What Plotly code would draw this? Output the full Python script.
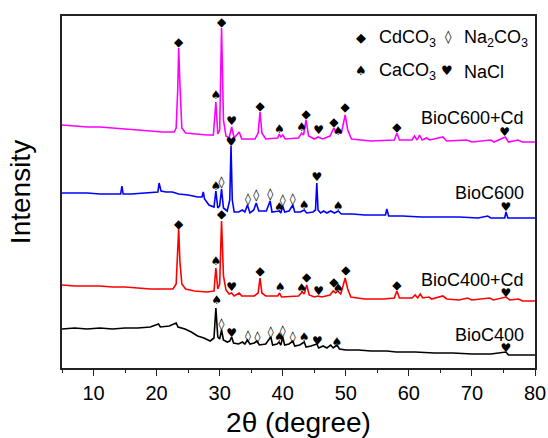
import plotly.graph_objects as go

# ---------------- data (2θ in degrees, intensity in arbitrary units) ----------------
bioc400_x = [5, 7, 9, 11, 13, 15, 17, 19, 20.3, 20.6, 22, 23.1, 23.4, 24.5, 25.5, 26.5, 27.5, 28.5,
             29.1, 29.4, 29.7, 30.0, 30.3, 30.6, 31.2, 31.6, 31.9, 32.2, 33, 33.6, 34.0, 34.4, 34.8,
             35.5, 35.9, 36.3, 37.3, 38.1, 38.4, 39.1, 39.4, 39.7, 40.0, 40.3, 41.0, 41.6, 41.9, 42.7,
             43.4, 43.7, 44.5, 45.4, 45.7, 46.4, 47.0, 47.6, 48.0, 48.6, 49.0, 50, 52, 54, 56.5, 58,
             61, 64, 67, 70, 73, 75.4, 75.8, 78, 80]
bioc400_y = [39, 40, 39, 40, 39, 40, 40, 41, 44, 41, 42, 45, 41, 39, 36, 32, 30, 27,
             30, 60, 31, 29, 38, 28, 26, 27, 31, 25, 24, 26, 24, 28, 24,
             25, 27, 23, 24, 31, 23, 24, 26, 23, 31, 23, 24, 27, 22, 23,
             26, 21, 22, 24, 20, 22, 20, 23, 20, 23, 19, 18, 18, 17, 17, 16,
             16, 15, 15, 14, 14, 16, 13, 13, 13]

bioc400cd_x = [5, 7, 9, 11, 13, 15, 17, 19, 21, 22.6, 23.1, 23.35, 23.5, 23.7, 24.0, 24.6, 26, 28,
               29.1, 29.4, 29.7, 30.0, 30.3, 30.6, 31.0, 31.5, 31.9, 32.3, 33.1, 33.5, 35.5, 36.1,
               36.4, 36.7, 37.3, 39.2, 39.5, 39.8, 42.5, 43.1, 43.4, 43.8, 44.2, 45.0, 45.6, 46.2,
               47.5, 48.0, 48.4, 48.7, 49.2, 49.6, 49.9, 50.3, 50.8, 53, 56, 57.7, 58.1, 58.5, 60.5,
               61.0, 61.4, 61.8, 62.2, 63.2, 63.6, 65.4, 66.0, 68, 69.3, 70, 72.8, 73.4, 75.4, 76,
               77.4, 78, 80]
bioc400cd_y = [83, 82, 82, 82, 81, 81, 80, 79, 79, 79, 84, 113, 139, 106, 84, 79, 77, 76,
               77, 100, 79, 84, 147, 92, 78, 74, 75, 72, 75, 72, 72, 75,
               90, 75, 72, 72, 75, 71, 72, 76, 74, 83, 73, 71, 72, 71,
               73, 77, 75, 77, 74, 83, 90, 79, 71, 69, 69, 70, 77, 70, 70,
               73, 70, 74, 70, 71, 69, 72, 69, 68, 70, 68, 70, 68, 71, 68,
               69, 67, 67]

bioc600_x = [5, 7, 9, 11, 13, 14.3, 14.5, 14.7, 16, 18, 20.2, 20.4, 20.7, 21.5, 22.5, 23.5, 25,
             26.5, 27.2, 27.4, 27.6, 28.3, 29.1, 29.4, 29.7, 30.0, 30.3, 30.6, 31.2, 31.6, 31.8,
             32.0, 32.3, 33.0, 33.6, 34.0, 34.4, 34.8, 35.4, 35.8, 36.2, 37.4, 38.0, 38.3, 39.1,
             39.45, 39.7, 40.0, 40.3, 41.0, 41.6, 41.9, 42.8, 43.4, 43.8, 44.8, 45.2, 45.4, 45.6,
             46.0, 46.5, 47.0, 47.6, 48.2, 48.8, 49.3, 51, 53, 55, 56.3, 56.5, 56.8, 59, 62, 65,
             68, 71, 72.5, 73, 75.2, 75.4, 75.7, 78, 80]
bioc600_y = [175, 175, 175, 174, 174, 174, 182, 174, 174, 175, 176, 185, 177, 176, 176, 174, 173,
             171, 171, 176, 169, 163, 161, 177, 160, 162, 179, 160, 157, 168, 222,
             168, 156, 156, 158, 156, 163, 155, 158, 165, 157, 157, 167, 156, 157,
             157, 155, 162, 156, 157, 163, 156, 156, 158, 155, 156, 158, 185, 158,
             155, 157, 155, 157, 155, 157, 154, 154, 153, 153, 153, 159, 152, 152, 151, 151,
             151, 150, 152, 150, 150, 156, 150, 150, 150]

bioc600cd_x = [5, 7, 9, 11, 13, 15, 17, 19, 21, 22.8, 23.1, 23.35, 23.5, 23.7, 24.0, 24.6, 26, 28,
               29.0, 29.4, 29.7, 30.0, 30.3, 30.6, 31.0, 31.5, 31.9, 32.3, 33.1, 33.5, 35.6, 36.1,
               36.4, 36.7, 37.3, 39.2, 39.45, 39.7, 40.0, 40.4, 42.5, 43.0, 43.3, 43.7, 44.1, 45.0,
               45.6, 46.3, 47.5, 48.1, 48.5, 48.8, 49.3, 49.9, 50.3, 50.9, 54, 57.7, 58.1, 58.5,
               60.5, 60.9, 61.3, 61.7, 62.1, 62.8, 63.3, 65.4, 66, 69.2, 70, 73, 73.5, 75.3, 75.8,
               77.3, 78, 80]
bioc600cd_y = [243, 242, 241, 241, 240, 239, 238, 237, 236, 236, 240, 278, 320, 283, 240, 235, 234, 233,
               233, 266, 234, 238, 340, 248, 232, 230, 241, 230, 236, 229, 229, 235,
               256, 235, 229, 230, 234, 231, 233, 229, 230, 235, 233, 248, 232, 229,
               231, 229, 232, 240, 235, 236, 235, 253, 238, 229, 227, 228, 235, 228,
               228, 232, 228, 233, 228, 230, 228, 231, 227, 228, 226, 228, 226, 231, 226,
               228, 226, 226]

# phase markers: (symbol, 2θ, intensity) per pattern
CD, NA, CA, CL = "◆", "◊", "♠", "♥"
bioc600cd_mk_sym = [CD, CA, CD, CL, CD, CA, CA, CD, CL, CD, CA, CD, CD, CL]
bioc600cd_mk_x = [23.5, 29.4, 30.3, 31.9, 36.4, 39.45, 43.0, 43.7, 45.7, 48.1, 48.8, 49.9, 58.1, 75.2]
bioc600cd_mk_y = [325, 272, 345, 246, 261, 238, 240, 253, 237, 245, 236, 260, 240, 235]

bioc600_mk_sym = [CA, NA, CL, NA, NA, NA, CA, NA, NA, CA, CL, CA, CL]
bioc600_mk_x = [29.4, 30.3, 31.8, 34.5, 35.8, 38.0, 39.45, 40.0, 41.6, 43.4, 45.4, 48.8, 75.4]
bioc600_mk_y = [181, 185, 225, 168, 172, 173, 160, 167, 168, 162, 190, 161, 160]

bioc400cd_mk_sym = [CD, CA, CD, CL, CD, CA, CA, CD, CL, CD, CA, CD, CD, CL]
bioc400cd_mk_x = [23.5, 29.4, 30.3, 31.9, 36.4, 39.6, 43.0, 43.8, 45.7, 48.1, 48.8, 50.0, 58.1, 75.4]
bioc400cd_mk_y = [143, 106, 153, 80, 96, 80, 79, 90, 76, 85, 79, 97, 82, 74]

bioc400_mk_sym = [CA, NA, CL, NA, NA, NA, CA, NA, NA, CA, CL, CA, CL]
bioc400_mk_x = [29.5, 30.3, 31.9, 34.5, 36.0, 38.1, 39.45, 40.0, 41.6, 43.4, 45.5, 48.6, 75.4]
bioc400_mk_y = [67, 43, 34, 31, 30, 35, 30, 36, 30, 30, 26, 25, 19]

labels = ["BioC600+Cd", "BioC600", "BioC400+Cd", "BioC400"]
label_y = [250, 175, 88, 33]
x_ticks = [10, 20, 30, 40, 50, 60, 70, 80]

# phase key entries (symbol, name)
key_sym = ["◆", "◊", "♠", "♥"]
key_name = ["CdCO<sub>3</sub>", "Na<sub>2</sub>CO<sub>3</sub>", "CaCO<sub>3</sub>", "NaCl"]

FONT = "Arial, 'Liberation Sans', sans-serif"
W, H = 548, 438
ML, MR, MT, MB = 62, 13, 16, 70
PW, PH = W - ML - MR, H - MT - MB


def px2paper(px, py):
    return (px - ML) / PW, (H - MB - py) / PH


fig = go.Figure()
series = [
    (bioc600cd_x, bioc600cd_y, "#FF00FF", bioc600cd_mk_sym, bioc600cd_mk_x, bioc600cd_mk_y),
    (bioc600_x, bioc600_y, "#0000FF", bioc600_mk_sym, bioc600_mk_x, bioc600_mk_y),
    (bioc400cd_x, bioc400cd_y, "#FF0000", bioc400cd_mk_sym, bioc400cd_mk_x, bioc400cd_mk_y),
    (bioc400_x, bioc400_y, "#000000", bioc400_mk_sym, bioc400_mk_x, bioc400_mk_y),
]
for name, (xs, ys, col, ms, mx, my) in zip(labels, series):
    fig.add_trace(go.Scatter(x=xs, y=ys, mode="lines", name=name,
                             line=dict(color=col, width=1.6), showlegend=False))
for name, (xs, ys, col, ms, mx, my) in zip(labels, series):
    fig.add_trace(go.Scatter(x=mx, y=my, mode="text", text=ms, textposition="middle center",
                             textfont=dict(family="DejaVu Sans", size=12, color="black"),
                             name=name + " phases", showlegend=False, hoverinfo="skip"))

for lab, ly in zip(labels, label_y):
    fig.add_annotation(x=78.6, y=ly, xref="x", yref="y", text=lab, showarrow=False,
                       xanchor="right", yanchor="middle",
                       font=dict(family=FONT, size=18, color="black"))

# phase key (top right), positions in pixels of the figure
key_pos = [(361, 37, 377), (448, 37, 462), (361, 70, 377), (447, 70, 462)]
for sym, name, (sx, sy, tx) in zip(key_sym, key_name, key_pos):
    ax, ay = px2paper(sx, sy)
    fig.add_annotation(x=ax, y=ay, xref="paper", yref="paper", text=sym,
                       showarrow=False, xanchor="center", yanchor="middle",
                       font=dict(family="DejaVu Sans", size=13, color="black"))
    bx, by = px2paper(tx, sy + 2)
    fig.add_annotation(x=bx, y=by, xref="paper", yref="paper", text=name,
                       showarrow=False, xanchor="left", yanchor="middle",
                       font=dict(family=FONT, size=18, color="black"))

fig.update_layout(
    width=W, height=H, autosize=False,
    margin=dict(l=ML, r=MR, t=MT, b=MB, autoexpand=False),
    paper_bgcolor="white", plot_bgcolor="white",
    font=dict(family=FONT, color="black"),
    xaxis=dict(range=[5, 80], tickvals=x_ticks, ticks="outside", ticklen=6, tickwidth=1.3,
               tickcolor="#222", showline=True, linecolor="#222", linewidth=1.5, mirror=True,
               showgrid=False, zeroline=False, tickfont=dict(size=20), automargin=False,
               minor=dict(tickvals=[5, 15, 25, 35, 45, 55, 65, 75], ticks="outside", ticklen=3,
                          tickcolor="#222", tickwidth=1.2),
               title=dict(text="2θ (degree)", font=dict(size=28), standoff=18)),
    yaxis=dict(range=[0, 352], showticklabels=False, ticks="", showline=True, linecolor="#222",
               linewidth=1.5, mirror=True, showgrid=False, zeroline=False, automargin=False,
               title=dict(text="Intensity", font=dict(size=28), standoff=21)),
)

fig.write_html("out.html", config={"displayModeBar": False})

# remove the default page margin so the figure sits at the window's top-left corner
with open("out.html", encoding="utf-8") as f:
    html = f.read()
html = html.replace("<head>", "<head><style>html,body{margin:0;padding:0;overflow:hidden;}</style>", 1)
with open("out.html", "w", encoding="utf-8") as f:
    f.write(html)
